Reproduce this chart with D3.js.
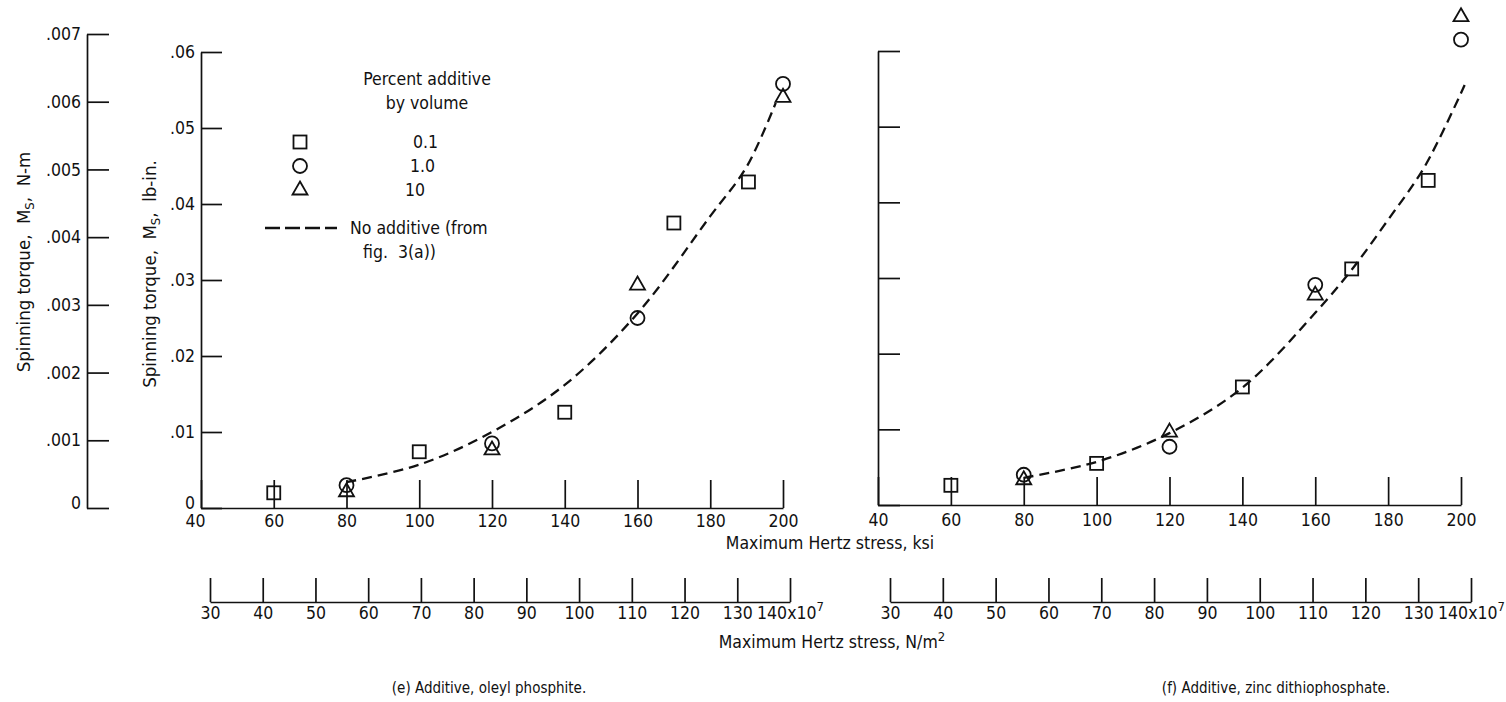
<!DOCTYPE html>
<html><head><meta charset="utf-8">
<script src="https://cdn.jsdelivr.net/npm/d3@7"></script>
<style>
body{margin:0;background:#fff;}
svg{display:block;background:#fff;}
text{font-family:"Liberation Sans Narrow","DejaVu Sans Condensed","Arial Narrow",sans-serif;fill:#111;}
</style></head><body>
<svg id="c" width="1506" height="702"></svg>
<script>
// ---------- data ----------
const ksiTicks = [40, 60, 80, 100, 120, 140, 160, 180, 200];
const lbTicks = [0, 0.01, 0.02, 0.03, 0.04, 0.05, 0.06];
const nmTicks = [0, 0.001, 0.002, 0.003, 0.004, 0.005, 0.006, 0.007];
const paTicks = [30, 40, 50, 60, 70, 80, 90, 100, 110, 120, 130, 140];

// (e) oleyl phosphite
const eSquareKsi = [60, 100, 140, 170, 190.5];
const eSquareTq  = [0.0020, 0.0074, 0.0126, 0.0375, 0.0429];
const eCircleKsi = [80, 120, 160, 200];
const eCircleTq  = [0.0030, 0.0085, 0.0250, 0.0558];
const eTriKsi    = [80, 120, 160, 200];
const eTriTq     = [0.0024, 0.0079, 0.0296, 0.0543];
const eCurveKsi  = [80, 100, 120, 140, 160, 180, 190, 198];
const eCurveTq   = [0.0034, 0.0057, 0.0100, 0.0162, 0.0256, 0.0384, 0.0449, 0.0533];

// (f) zinc dithiophosphate
const fSquareKsi = [60, 100, 140, 170, 191];
const fSquareTq  = [0.0026, 0.0055, 0.0156, 0.0312, 0.0429];
const fCircleKsi = [80, 120, 160, 200];
const fCircleTq  = [0.0040, 0.0077, 0.0291, 0.0615];
const fTriKsi    = [80, 120, 160, 200];
const fTriTq     = [0.0036, 0.0099, 0.0280, 0.0648];
const fCurveKsi  = [80, 100, 120, 140, 160, 170, 180, 190, 201];
const fCurveTq   = [0.0036, 0.0057, 0.0095, 0.0155, 0.0254, 0.0311, 0.0377, 0.0447, 0.0555];

const legendLabels = ["0.1", "1.0", "10"];

// ---------- drawing ----------
const svg = d3.select("#c");
const INK = "#111";
const FS = 17.5;

const xE = d3.scaleLinear().domain([40, 200]).range([201, 783]);
const yE = d3.scaleLinear().domain([0, 0.06]).range([508, 52]);
const yNm = d3.scaleLinear().domain([0, 0.007]).range([508, 34]);
const xF = d3.scaleLinear().domain([40, 200]).range([878, 1461]);
const yF = d3.scaleLinear().domain([0, 0.06]).range([505, 51]);
const pE = d3.scaleLinear().domain([30, 140]).range([210, 790]);
const pF = d3.scaleLinear().domain([30, 140]).range([890, 1471]);

function styleAxis(g) {
  g.attr("font-family", null).attr("font-size", FS);
  g.select(".domain").attr("stroke", INK).attr("stroke-width", 1.7);
  g.selectAll(".tick line").attr("stroke", INK).attr("stroke-width", 1.7);
  g.selectAll(".tick text").attr("fill", INK);
}
const fmtDec = d => d === 0 ? "0" : d3.format(".3~f")(d).replace(/^0/, "");

// N-m axis
svg.append("g").attr("transform", "translate(87,0)")
  .call(d3.axisLeft(yNm).tickValues(nmTicks).tickSizeInner(-22).tickSizeOuter(0).tickPadding(6).tickFormat(fmtDec))
  .call(styleAxis)
  .selectAll(".tick text").filter(d => d === 0).attr("dy", "0.05em");

// lb-in axis (e)
svg.append("g").attr("transform", "translate(201,0)")
  .call(d3.axisLeft(yE).tickValues(lbTicks).tickSizeInner(-21).tickSizeOuter(0).tickPadding(6).tickFormat(fmtDec))
  .call(styleAxis)
  .selectAll(".tick text").filter(d => d === 0).attr("dy", "0.05em");

// lb-in axis (f) (no labels)
svg.append("g").attr("transform", "translate(878,0)")
  .call(d3.axisLeft(yF).tickValues(lbTicks).tickSizeInner(-22).tickSizeOuter(0).tickFormat(""))
  .call(styleAxis);

// ksi axes
svg.append("g").attr("transform", "translate(0,508)")
  .call(d3.axisBottom(xE).tickValues(ksiTicks).tickSizeInner(-28).tickSizeOuter(0).tickPadding(7).tickFormat(d3.format("d")))
  .call(styleAxis)
  .selectAll(".tick text").filter(d => d === 40).attr("dx", -6);
svg.append("g").attr("transform", "translate(0,505)")
  .call(d3.axisBottom(xF).tickValues(ksiTicks).tickSizeInner(-28).tickSizeOuter(0).tickPadding(9).tickFormat(d3.format("d")))
  .call(styleAxis);

// N/m^2 axes
function paAxis(scale) {
  const g = svg.append("g").attr("transform", "translate(0,602)")
    .call(d3.axisBottom(scale).tickValues(paTicks).tickSizeInner(-24).tickSizeOuter(0).tickPadding(5).tickFormat(d3.format("d")))
    .call(styleAxis);
  const last = g.selectAll(".tick text").filter(d => d === 140);
  last.append("tspan").text("x10");
  last.append("tspan").attr("dy", -8).attr("font-size", 13).text("7");
}
paAxis(pE);
paAxis(pF);

// y-axis titles
function yTitle(x, y, unit) {
  const t = svg.append("text").attr("transform", `translate(${x},${y}) rotate(-90)`)
    .attr("text-anchor", "middle").attr("font-size", 18.5).attr("xml:space", "preserve");
  t.append("tspan").text("Spinning torque,  M");
  t.append("tspan").attr("dy", 4).attr("font-size", 13).text("S");
  t.append("tspan").attr("dy", -4).text(",  " + unit);
}
yTitle(30, 262, "N-m");
yTitle(156, 274, "lb-in.");

// markers
function square(g, cx, cy) {
  g.append("rect").attr("x", cx - 6.5).attr("y", cy - 6.5).attr("width", 13).attr("height", 13)
    .attr("fill", "none").attr("stroke", INK).attr("stroke-width", 1.8);
}
function circle(g, cx, cy) {
  g.append("circle").attr("cx", cx).attr("cy", cy).attr("r", 7)
    .attr("fill", "none").attr("stroke", INK).attr("stroke-width", 1.8);
}
function tri(g, cx, cy) {
  const w = 15, h = 13;
  g.append("path").attr("d", `M${cx},${cy - h / 2}L${cx + w / 2},${cy + h / 2}L${cx - w / 2},${cy + h / 2}Z`)
    .attr("fill", "none").attr("stroke", INK).attr("stroke-width", 1.8).attr("stroke-linejoin", "miter");
}

function panel(x, y, sqK, sqT, ciK, ciT, trK, trT, cvK, cvT) {
  const g = svg.append("g");
  const line = d3.line().x(d => x(d[0])).y(d => y(d[1])).curve(d3.curveCatmullRom.alpha(0.5));
  g.append("path").datum(d3.zip(cvK, cvT)).attr("d", line)
    .attr("fill", "none").attr("stroke", INK).attr("stroke-width", 2.3).attr("stroke-dasharray", "10,6");
  sqK.forEach((k, i) => square(g, x(k), y(sqT[i])));
  ciK.forEach((k, i) => circle(g, x(k), y(ciT[i])));
  trK.forEach((k, i) => tri(g, x(k), y(trT[i])));
}
panel(xE, yE, eSquareKsi, eSquareTq, eCircleKsi, eCircleTq, eTriKsi, eTriTq, eCurveKsi, eCurveTq);
panel(xF, yF, fSquareKsi, fSquareTq, fCircleKsi, fCircleTq, fTriKsi, fTriTq, fCurveKsi, fCurveTq);

// legend
const lg = svg.append("g");
lg.append("text").attr("x", 427).attr("y", 85).attr("text-anchor", "middle").attr("font-size", FS).text("Percent additive");
lg.append("text").attr("x", 427).attr("y", 109).attr("text-anchor", "middle").attr("font-size", FS).text("by volume");
square(lg, 300, 142);
circle(lg, 300, 166);
tri(lg, 300, 188);
const lx = [413, 410, 405], ly = [148, 172, 196];
legendLabels.forEach((s, i) => lg.append("text").attr("x", lx[i]).attr("y", ly[i]).attr("font-size", FS).text(s));
lg.append("line").attr("x1", 265).attr("x2", 337).attr("y1", 228).attr("y2", 228)
  .attr("stroke", INK).attr("stroke-width", 2.3).attr("stroke-dasharray", "15,5");
lg.append("text").attr("x", 350).attr("y", 234).attr("font-size", FS).text("No additive (from");
lg.append("text").attr("x", 363).attr("y", 258).attr("font-size", FS).text("fig.  3(a))").attr("xml:space", "preserve");

// axis titles and captions
svg.append("text").attr("x", 830).attr("y", 549).attr("text-anchor", "middle").attr("font-size", FS)
  .text("Maximum Hertz stress, ksi");
const nt = svg.append("text").attr("x", 832).attr("y", 648).attr("text-anchor", "middle").attr("font-size", FS);
nt.append("tspan").text("Maximum Hertz stress, N/m");
nt.append("tspan").attr("dy", -7).attr("font-size", 13).text("2");
svg.append("text").attr("x", 489).attr("y", 693).attr("text-anchor", "middle").attr("font-size", 15)
  .text("(e) Additive, oleyl phosphite.");
svg.append("text").attr("x", 1276).attr("y", 693).attr("text-anchor", "middle").attr("font-size", 15)
  .text("(f) Additive, zinc dithiophosphate.");
</script>
</body></html>
